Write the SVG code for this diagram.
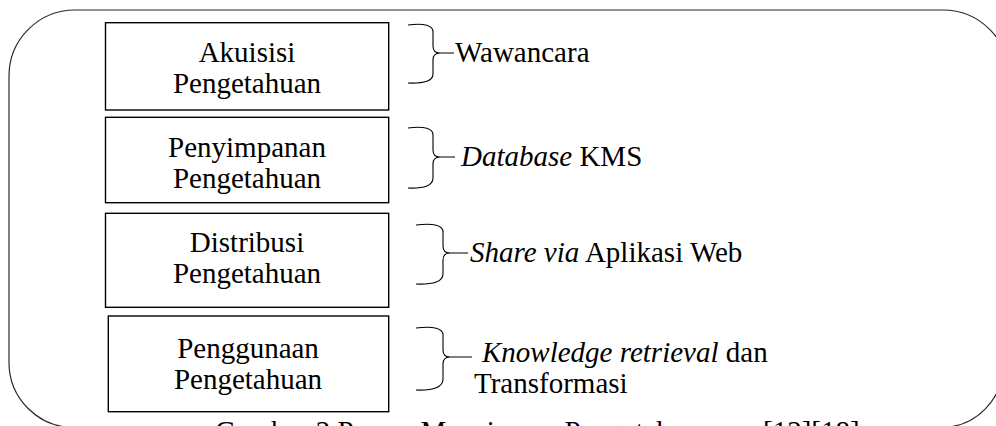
<svg xmlns="http://www.w3.org/2000/svg" width="996" height="426" viewBox="0 0 996 426">
  <style>
    text { font-family: "Liberation Serif", "Times New Roman", serif; font-size: 29px; fill: #000; }
    .c { text-anchor: middle; }
    .i { font-style: italic; }
    .box { fill: #fff; stroke: #000; stroke-width: 1.4; }
    .brace { fill: none; stroke: #000; stroke-width: 1.1; }
    .frame { fill: none; stroke: #2a2a2a; stroke-width: 1.2; }
  </style>

  <!-- rounded outer frame (runs past the right and bottom edges) -->
  <path class="frame" d="M 9 362 L 9 76 A 66 66 0 0 1 75 10 L 943 10 A 66 66 0 0 1 1009 76 L 1003 364 A 62 62 0 0 1 941 427.5 L 74 427.5 A 65 65 0 0 1 9 362 Z"/>

  <!-- process boxes -->
  <g id="akuisisi">
    <rect class="box" x="105.5" y="22.7" width="283.2" height="87.3"/>
    <text class="c" x="247" y="61.7">Akuisisi</text>
    <text class="c" x="247" y="92.7">Pengetahuan</text>
  </g>
  <g id="penyimpanan">
    <rect class="box" x="105.5" y="117.3" width="283.2" height="85.4"/>
    <text class="c" x="247" y="156.5">Penyimpanan</text>
    <text class="c" x="247" y="187.5">Pengetahuan</text>
  </g>
  <g id="distribusi">
    <rect class="box" x="105.5" y="213.3" width="283.2" height="94"/>
    <text class="c" x="247" y="251.5">Distribusi</text>
    <text class="c" x="247" y="282.5">Pengetahuan</text>
  </g>
  <g id="penggunaan">
    <rect class="box" x="108.3" y="316" width="280.4" height="95.7"/>
    <text class="c" x="248" y="357.5">Penggunaan</text>
    <text class="c" x="248" y="388.5">Pengetahuan</text>
  </g>

  <!-- braces linking each step to its method -->
  <g id="connectors">
    <path class="brace" d="M 408 25 Q 433 22 433 32 L 433 46 Q 433 53 440 53 L 454 53 M 440 53 Q 433 53 433 60 L 433 74 Q 433 84 408 83"/>
    <path class="brace" d="M 408 128 Q 433 125 433 135 L 433 150 Q 433 157 440 157 L 455 157 M 440 157 Q 433 157 433 164 L 433 178 Q 433 189 408 188"/>
    <path class="brace" d="M 416 225 Q 443 222 443 232 L 443 246 Q 443 253 450 253 L 468 253 M 450 253 Q 443 253 443 260 L 443 274 Q 443 285 416 284"/>
    <path class="brace" d="M 416 328 Q 443 325 443 335 L 443 350 Q 443 357 450 357 L 472 357 M 450 357 Q 443 357 443 364 L 443 379 Q 443 391 416 390"/>
  </g>

  <g id="metode">
    <text x="455" y="62">Wawancara</text>
    <text x="461" y="166"><tspan class="i">Database</tspan> KMS</text>
    <text x="470" y="262"><tspan class="i">Share via</tspan> Aplikasi Web</text>
    <text x="482" y="362"><tspan class="i">Knowledge retrieval</tspan> dan</text>
    <text x="474" y="393">Transformasi</text>
  </g>

  <!-- figure caption, mostly below the visible area -->
  <text x="215" y="441">Gambar 2 Proses Manajemen Pengetahuan <tspan x="763">[12][18]</tspan></text>
</svg>
